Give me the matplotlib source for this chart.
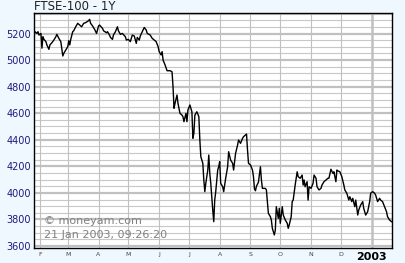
import pandas as pd
import matplotlib
matplotlib.use('Agg')
import matplotlib.pyplot as plt
import matplotlib.dates as mdates

# FTSE-100, one year to 21 Jan 2003
start = pd.Timestamp('2002-01-25')
day = [0, 2, 4, 5, 6, 8, 9, 10, 11, 13, 14, 16, 17, 19, 21, 23, 24, 26, 28, 30,
       31, 33, 35, 36, 37, 38, 40, 41, 43, 45, 47, 49, 51, 53, 56, 57, 58, 60, 62, 64,
       66, 67, 70, 71, 74, 75, 77, 78, 80, 81, 83, 85, 86, 88, 90, 93, 94, 96, 98, 100,
       102, 104, 105, 107, 108, 110, 112, 114, 115, 118, 120, 122, 124, 126, 127, 129, 130, 131, 133, 135,
       138, 140, 141, 142, 143, 145, 146, 148, 150, 151, 152, 154, 155, 156, 158, 160, 161, 162, 163, 165,
       167, 168, 169, 171, 172, 173, 174, 176, 177, 178, 179, 180, 181, 182, 183, 184, 186, 187, 188, 189,
       191, 192, 194, 196, 197, 199, 201, 202, 204, 206, 207, 209, 211, 212, 214, 215, 216, 217, 219, 221,
       222, 223, 224, 225, 227, 229, 230, 231, 234, 235, 237, 239, 240, 241, 243, 244, 245, 247, 248, 249,
       251, 252, 254, 256, 257, 258, 260, 261, 262, 264, 266, 267, 269, 271, 272, 273, 274, 276, 277, 278,
       280, 282, 283, 285, 286, 288, 290, 291, 293, 295, 297, 298, 300, 302, 303, 305, 306, 307, 309, 311,
       313, 314, 316, 318, 319, 321, 322, 324, 325, 327, 328, 330, 332, 333, 335, 337, 339, 340, 342, 344,
       345, 347, 349, 350, 352, 354, 356, 357, 359, 361]
close = [5164, 5214, 5201, 5214, 5189, 5201, 5090, 5176, 5156, 5139, 5114, 5081, 5114, 5131, 5151, 5176, 5194, 5164, 5139, 5031,
         5051, 5076, 5101, 5146, 5114, 5156, 5214, 5221, 5251, 5277, 5264, 5251, 5277, 5282, 5297, 5307, 5277, 5257, 5232, 5201,
         5257, 5264, 5239, 5221, 5206, 5214, 5189, 5171, 5156, 5189, 5214, 5251, 5221, 5194, 5201, 5176, 5151, 5156, 5139, 5189,
         5181, 5126, 5171, 5151, 5181, 5214, 5246, 5226, 5201, 5189, 5164, 5151, 5139, 5101, 5064, 5039, 5064, 5000, 4963, 4920,
         4920, 4912, 4799, 4637, 4674, 4737, 4674, 4599, 4586, 4574, 4536, 4599, 4536, 4624, 4662, 4611, 4411, 4449, 4586, 4611,
         4574, 4398, 4272, 4223, 4097, 4009, 4072, 4172, 4285, 4147, 4072, 3971, 3871, 3783, 3946, 4009, 4172, 4197, 4235, 4072,
         4046, 4009, 4110, 4197, 4310, 4247, 4223, 4172, 4298, 4360, 4398, 4373, 4411, 4423, 4436, 4443, 4323, 4223, 4210, 4172,
         4122, 4030, 4016, 4050, 4080, 4197, 4097, 4034, 4034, 4022, 3846, 3821, 3796, 3733, 3683, 3720, 3896, 3808, 3884, 3771,
         3896, 3833, 3796, 3771, 3733, 3758, 3821, 3934, 3946, 4059, 4159, 4122, 4110, 4134, 4059, 4097, 4046, 4084, 3946, 4046,
         4034, 4072, 4134, 4110, 4046, 4022, 4034, 4059, 4084, 4097, 4110, 4110, 4178, 4147, 4159, 4084, 4172, 4166, 4159, 4122,
         4059, 4022, 3997, 3946, 3971, 3934, 3959, 3896, 3946, 3833, 3871, 3909, 3934, 3884, 3833, 3858, 3934, 3997, 4009, 3997,
         3984, 3934, 3959, 3946, 3934, 3896, 3858, 3821, 3796, 3783]

month_starts = ['2002-02-01', '2002-03-01', '2002-04-01', '2002-05-01', '2002-06-01', '2002-07-01',
                '2002-08-01', '2002-09-01', '2002-10-01', '2002-11-01', '2002-12-01', '2003-01-01']
month_labels = ['F', 'M', 'A', 'M', 'J', 'J', 'A', 'S', 'O', 'N', 'D', '2003']
y_ticks = [3600, 3800, 4000, 4200, 4400, 4600, 4800, 5000, 5200]

dates = start + pd.to_timedelta(day, unit='D')
months = pd.to_datetime(month_starts)

fig = plt.figure(figsize=(4.05, 2.63), dpi=100, facecolor='#f0f8ff')
ax = fig.add_axes([34 / 405, 1 - 247.7 / 263, 358 / 405, 235 / 263])
ax.set_facecolor('white')

# grid: thin lines every 50, thick every 200, month lines
for v in range(3600, 5400, 50):
    if v % 200 == 0:
        ax.axhline(v, color='#c0c0c0', lw=1.6, zorder=1)
    else:
        ax.axhline(v, color='#c8c8c8', lw=0.8, zorder=1)
for m in months:
    if m.month == 1:
        ax.axvline(m, color='#c0c0c0', lw=1.8, zorder=1)
    else:
        ax.axvline(m, color='#c0c0c0', lw=0.8, zorder=1)

ax.plot(dates, close, color='black', lw=1.0, zorder=3)

ax.set_xlim(start + pd.Timedelta(days=1), start + pd.Timedelta(days=361.5))
ax.set_ylim(3587, 5357)

ax.set_yticks(y_ticks)
ax.set_yticklabels([str(v) for v in y_ticks], fontsize=7, color='#1a1a80')
ax.tick_params(axis='y', length=0, pad=2)

ax.set_xticks(months)
ax.set_xticklabels(month_labels, fontsize=4.5, color='#444444')
ax.tick_params(axis='x', length=0, pad=3)
last = ax.get_xticklabels()[-1]
last.set_fontsize(8)
last.set_fontweight('bold')
last.set_color('black')

for s in ax.spines.values():
    s.set_color('black')
    s.set_linewidth(1.0)

fig.text(34 / 405, 1 - 7 / 263, 'FTSE-100 - 1Y', fontsize=8.5, color='#222222',
         ha='left', va='center')
ax.text(44 / 405 - 34 / 405, 0, '', transform=ax.transAxes)
fig.text(44 / 405, 1 - 221 / 263, '\u00a9 moneyam.com', fontsize=8, color='#808080',
         ha='left', va='center', zorder=4)
fig.text(44 / 405, 1 - 235 / 263, '21 Jan 2003, 09:26:20', fontsize=8, color='#808080',
         ha='left', va='center', zorder=4)

fig.savefig('out.png', dpi=100, facecolor=fig.get_facecolor())
